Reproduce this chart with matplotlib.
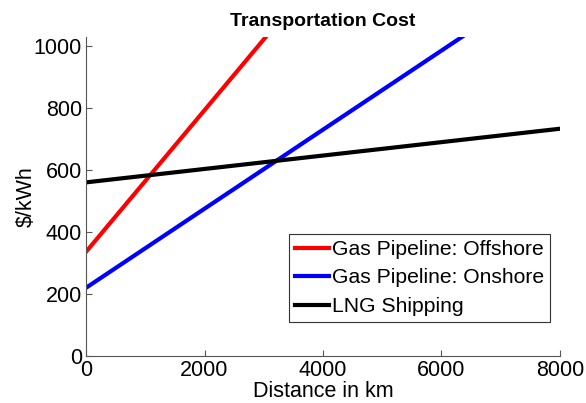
import matplotlib.pyplot as plt

plt.rcParams['font.family'] = ['Liberation Sans', 'DejaVu Sans']

# cost at 0 km and 8000 km, $/kWh
distance_km = [0, 8000]
offshore = [336, 2163]
onshore = [220, 1240]
lng = [560, 733]

fig = plt.figure(figsize=(5.86, 4.03), dpi=100)
ax = fig.add_axes([0.1468, 0.1166, 0.8088, 0.7925])

ax.plot(distance_km, offshore, color='#ff0000', lw=3, label='Gas Pipeline: Offshore')
ax.plot(distance_km, onshore, color='#0000ff', lw=3, label='Gas Pipeline: Onshore')
ax.plot(distance_km, lng, color='black', lw=3, label='LNG Shipping')

ax.set_xlim(0, 8000)
ax.set_ylim(0, 1030)
ax.set_xticks([0, 2000, 4000, 6000, 8000])
ax.set_yticks([0, 200, 400, 600, 800, 1000])

for s in ['top', 'right']:
    ax.spines[s].set_visible(False)
for s in ['left', 'bottom']:
    ax.spines[s].set_color('#555555')
    ax.spines[s].set_linewidth(0.8)
ax.tick_params(direction='in', length=4, width=0.8, color='#555555',
               labelsize=15.5, labelcolor='black', pad=3)

ax.set_xlabel('Distance in km', fontsize=15.5, labelpad=0)
ax.set_ylabel(r'\$/kWh', fontsize=15.5, labelpad=-2)
ax.set_title('Transportation Cost', fontsize=14, fontweight='bold', pad=8)

leg = ax.legend(loc='upper left', bbox_to_anchor=(289 / 586, 1 - 234 / 403),
                bbox_transform=fig.transFigure, fontsize=15.2, frameon=True,
                fancybox=False, framealpha=1, edgecolor='#333333',
                handlelength=1.6, handletextpad=0.15, borderpad=0.28,
                labelspacing=0.45, borderaxespad=0)
leg.get_frame().set_linewidth(0.8)

fig.savefig('out.png', dpi=100)
